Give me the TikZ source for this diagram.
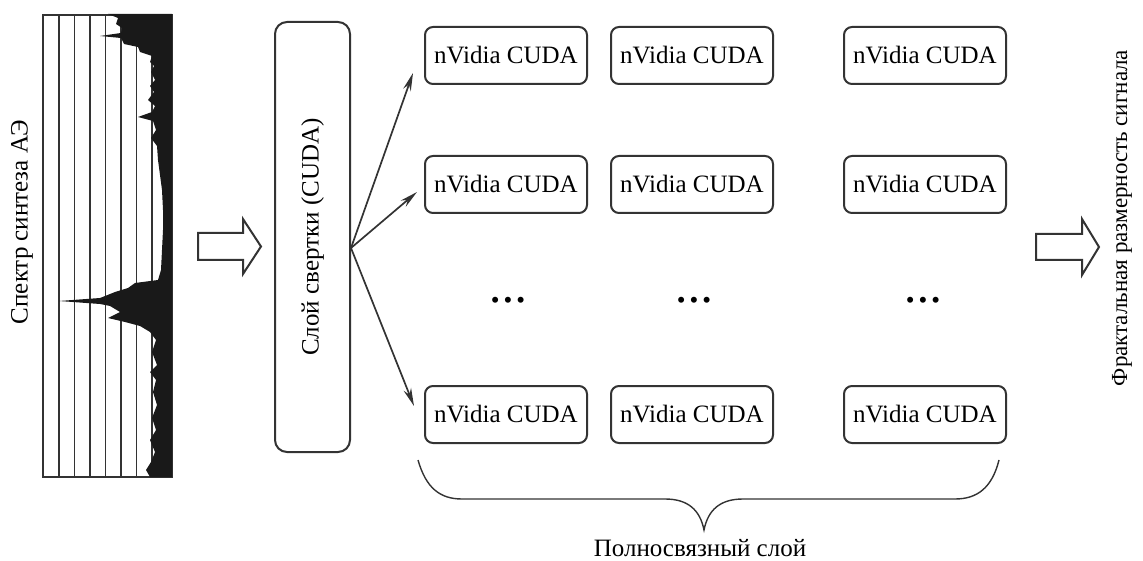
\documentclass[tikz,border=0pt]{standalone}
\usepackage{fontspec}
\setmainfont{Liberation Serif}
\usetikzlibrary{arrows.meta,positioning,calc}

\def\boxw{162pt}
\def\boxh{57pt}

\begin{document}
\begin{tikzpicture}[x=1pt,y=-1pt,line width=2pt,draw=black!80,font=\fontsize{25}{30}\selectfont]
    \tikzstyle{cuda}=[draw,rounded corners=8pt,minimum width=\boxw,minimum height=\boxh,inner sep=0pt]
    \tikzstyle{layer}=[draw,rounded corners=12pt,minimum width=75pt,minimum height=430pt,inner sep=0pt]
    \tikzstyle{hollow}=[draw,fill=white,line width=2pt,line join=miter]
    \tikzstyle{link}=[-{Stealth[length=18pt,width=8pt]},line width=1.7pt]
    \tikzstyle{grid line}=[line width=1.4pt]
    \tikzstyle{annot}=[rotate=90,inner sep=0pt]

    \useasboundingbox (0,0) rectangle (1143,561);

    % Draw the spectrum frame and its grid
    \draw[grid line] (43,15) rectangle (172,477);
    \foreach \x in {58.8,74.3,89.8,105.3,120.8,136.3,151.8}
        \draw[grid line] (\x,15) -- (\x,477);
    \fill[black!90] (108,14) -- (118,18) -- (116,24) -- (122,28) -- (121,33) -- (100,36) -- (121,38)
        -- (124,44) -- (138,47) -- (140,52) -- (152,56) -- (150,62) -- (154,66) -- (151,72)
        -- (155,80) -- (150,86) -- (154,92) -- (148,100) -- (155,106) -- (152,112) -- (138,117)
        -- (153,121) -- (156,130) -- (151,138) -- (157,146) -- (158,160) -- (160,175) -- (162,190)
        -- (163,210) -- (163,230) -- (162,250) -- (161,270) -- (158,280) -- (135,283) -- (128,288)
        -- (115,292) -- (100,298) -- (59,301) -- (100,304) -- (110,306) -- (120,312) -- (108,318)
        -- (125,322) -- (140,326) -- (150,332) -- (156,340) -- (152,352) -- (157,365) -- (150,372)
        -- (156,380) -- (153,392) -- (157,405) -- (152,418) -- (156,430) -- (150,440) -- (155,452)
        -- (151,462) -- (146,470) -- (150,477) -- (172,477) -- (172,14) -- cycle;
    \node[annot] (spec) at (22,222) {Спектр синтеза АЭ};

    % Draw the input arrow
    \draw[hollow] (198,233) -- (243,233) -- (243,219) -- (261,246.5) -- (243,274) -- (243,260) -- (198,260) -- cycle;

    % Draw the convolution layer
    \node[layer] (conv) at (312.5,237) {};
    \node[annot] (conv-text) at (conv) {Слой свертки (CUDA)};

    % Draw the fully connected layer
    \node[cuda] (C-1-1) at (506,55.5) {nVidia CUDA};
    \node[cuda] (C-1-2) at (692,55.5) {nVidia CUDA};
    \node[cuda] (C-1-3) at (925,55.5) {nVidia CUDA};
    \node[cuda] (C-2-1) at (506,184.5) {nVidia CUDA};
    \node[cuda] (C-2-2) at (692,184.5) {nVidia CUDA};
    \node[cuda] (C-2-3) at (925,184.5) {nVidia CUDA};
    \node[cuda] (C-4-1) at (506,414.5) {nVidia CUDA};
    \node[cuda] (C-4-2) at (692,414.5) {nVidia CUDA};
    \node[cuda] (C-4-3) at (925,414.5) {nVidia CUDA};

    \node (D-1) at (508,303) {\textbullet\hspace{4pt}\textbullet\hspace{4pt}\textbullet};
    \node (D-2) at (694,303) {\textbullet\hspace{4pt}\textbullet\hspace{4pt}\textbullet};
    \node (D-3) at (923,303) {\textbullet\hspace{4pt}\textbullet\hspace{4pt}\textbullet};

    % Connect the convolution layer with the first column
    \coordinate (src) at ([yshift=-11pt]conv.east);
    \coordinate (T-1) at ([xshift=-11pt,yshift=-17.5pt]C-1-1.west);
    \coordinate (T-2) at ([xshift=-7pt,yshift=-7.5pt]C-2-1.west);
    \coordinate (T-4) at ([xshift=-10pt,yshift=8.5pt]C-4-1.west);
    \draw[link] (src) -- (T-1);
    \draw[link] (src) -- (T-2);
    \draw[link] (src) -- (T-4);

    % Brace under the layer
    \draw[line width=1.4pt] (418,460) .. controls (426,488) and (440,499) .. (462,499) -- (665,499)
        .. controls (688,499) and (700,510) .. (704,530) .. controls (708,510) and (720,499) .. (743,499)
        -- (955,499) .. controls (977,499) and (992,488) .. (999,460);
    \node (fc) at (700,548) {Полносвязный слой};

    % Draw the output arrow
    \draw[hollow] (1036,234) -- (1082,234) -- (1082,219) -- (1099,247) -- (1082,275) -- (1082,260) -- (1036,260) -- cycle;
    \node[annot,font=\fontsize{23}{28}\selectfont] (res) at (1122,218) {Фрактальная размерность сигнала};
\end{tikzpicture}
\end{document}
